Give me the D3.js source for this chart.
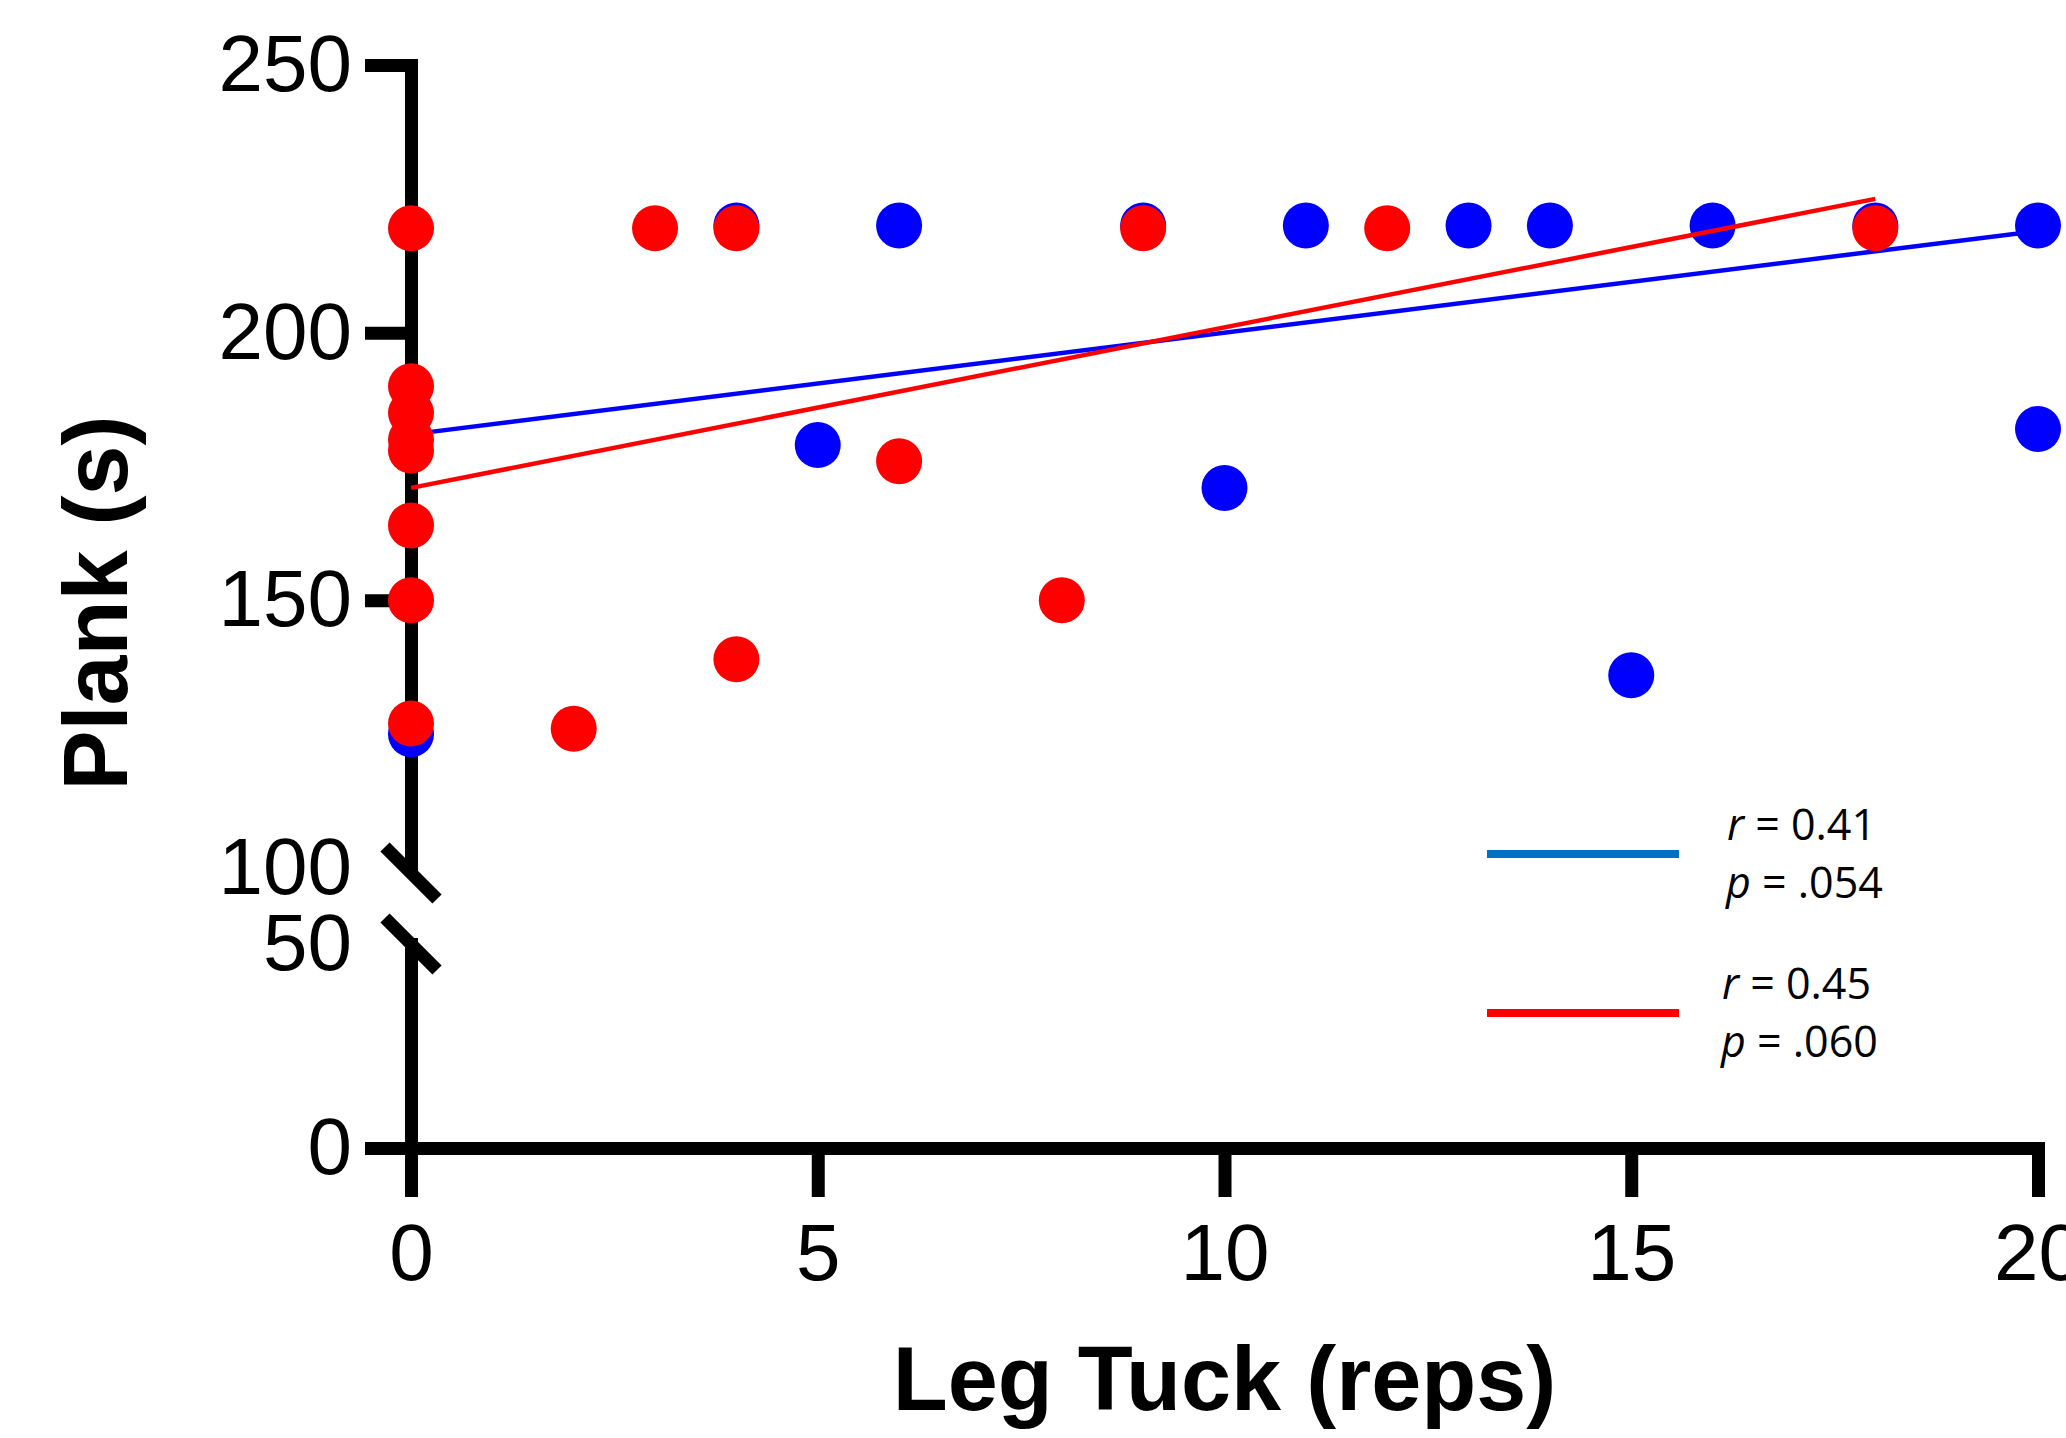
<!DOCTYPE html>
<html>
<head>
<meta charset="utf-8">
<script src="https://cdn.jsdelivr.net/npm/d3@7"></script>
<style>
  body { margin: 0; background: #fff; }
  #root { width: 2066px; height: 1438px; overflow: hidden; }
</style>
</head>
<body>
<div id="root"></div>
<script>
// DATA
const blueX = [0, 4, 5, 6, 9, 10, 11, 13, 14, 15, 16, 18, 20, 20];
const blueY = [125, 220, 179, 220, 220, 171, 220, 220, 220, 136, 220, 220, 220, 182];
const redX = [0, 0, 0, 0, 0, 0, 0, 0, 2, 3, 4, 4, 6, 8, 9, 12, 18];
const redY = [219.5, 190, 185, 180, 178, 164, 150, 127, 126, 219.5, 219.5, 139, 176, 150, 219.5, 219.5, 219.5];

// fitted lines, [x, y] at each end
const blueFit = [[0, 181], [20, 219]];
const redFit = [[0, 171], [18, 225]];

const xTicks = [0, 5, 10, 15, 20];
const yTicksUpper = [100, 150, 200, 250];
const yTicksLower = [0, 50];

const statR = ['0.41', '0.45'];
const statP = ['.054', '.060'];
const legendColors = ['#0070C0', '#FF0000'];

buildGraph();

function buildGraph() {
    const w = 2066;
    const h = 1438;

    const svg = d3.select('#root')
        .append('svg')
        .attr('width', w)
        .attr('height', h);

    // -- scales (y axis is broken between 50 and 100)
    const x = d3.scaleLinear().domain([0, 20]).range([411, 2038]);
    const yUp = d3.scaleLinear().domain([100, 250]).range([868, 65]);
    const yLow = d3.scaleLinear().domain([0, 50]).range([1148, 944]);

    const axisFont = "'Liberation Sans', Arial, sans-serif";

    // Y axis, upper part
    const gUp = svg.append('g')
        .attr('transform', `translate(${x(0)},0)`)
        .call(d3.axisLeft(yUp).tickValues(yTicksUpper).tickSize(46).tickSizeOuter(0).tickPadding(13));

    // Y axis, lower part
    const gLow = svg.append('g')
        .attr('transform', `translate(${x(0)},0)`)
        .call(d3.axisLeft(yLow).tickValues(yTicksLower).tickSize(46).tickSizeOuter(0).tickPadding(13));

    // X axis
    const gX = svg.append('g')
        .attr('transform', `translate(0,${yLow(0)})`)
        .call(d3.axisBottom(x).tickValues(xTicks).tickSize(49).tickSizeOuter(0).tickPadding(26));

    [gUp, gLow, gX].forEach(g => {
        g.select('.domain')
            .attr('stroke', '#000')
            .attr('stroke-width', 13)
            .attr('stroke-linecap', 'square');
        g.selectAll('.tick line')
            .attr('stroke', '#000')
            .attr('stroke-width', 13);
        g.selectAll('.tick text')
            .attr('fill', '#000')
            .style('font-family', axisFont)
            .style('font-size', '80px');
    });

    // no tick at the break values, the break marks go there instead
    gUp.selectAll('.tick').filter(d => d === 100).select('line').remove();
    gLow.selectAll('.tick').filter(d => d === 50).select('line').remove();

    // break marks
    [yUp(100) + 5, yLow(50)].forEach(yy => {
        svg.append('line')
            .attr('x1', x(0) - 26)
            .attr('y1', yy - 26)
            .attr('x2', x(0) + 26)
            .attr('y2', yy + 26)
            .attr('stroke', '#000')
            .attr('stroke-width', 13);
    });

    // points and fit lines
    const r = 23;
    svg.append('g').selectAll('circle')
        .data(blueX)
        .enter()
        .append('circle')
        .attr('cx', d => x(d))
        .attr('cy', (d, i) => yUp(blueY[i]))
        .attr('r', r)
        .attr('fill', '#0000FF');

    const line = d3.line().x(d => x(d[0])).y(d => yUp(d[1]));
    svg.append('path')
        .attr('d', line(blueFit))
        .attr('fill', 'none')
        .attr('stroke', '#0000FF')
        .attr('stroke-width', 4.5);
    svg.append('path')
        .attr('d', line(redFit))
        .attr('fill', 'none')
        .attr('stroke', '#FF0000')
        .attr('stroke-width', 4.5);

    svg.append('g').selectAll('circle')
        .data(redX)
        .enter()
        .append('circle')
        .attr('cx', d => x(d))
        .attr('cy', (d, i) => yUp(redY[i]))
        .attr('r', r)
        .attr('fill', '#FF0000');

    // axis titles
    svg.append('text')
        .attr('text-anchor', 'middle')
        .attr('transform', 'translate(127,603)rotate(-90)')
        .style('font-family', axisFont)
        .style('font-weight', 'bold')
        .style('font-size', '90px')
        .text('Plank (s)');

    svg.append('text')
        .attr('text-anchor', 'middle')
        .attr('x', x(10))
        .attr('y', 1410)
        .style('font-family', axisFont)
        .style('font-weight', 'bold')
        .style('font-size', '90px')
        .text('Leg Tuck (reps)');

    // legend
    const legY = [854, 1013];
    legendColors.forEach((c, i) => {
        svg.append('line')
            .attr('x1', 1487)
            .attr('x2', 1679)
            .attr('y1', legY[i])
            .attr('y2', legY[i])
            .attr('stroke', c)
            .attr('stroke-width', 8);

        const tx = 1727 - i * 5;
        const t1 = svg.append('text')
            .attr('x', tx)
            .attr('y', legY[i] - 14)
            .style('font-family', "'Open Sans', sans-serif")
            .style('font-size', '43px');
        t1.append('tspan').style('font-style', 'italic').text('r');
        t1.append('tspan').text(' = ' + statR[i]);

        const t2 = svg.append('text')
            .attr('x', tx - 1)
            .attr('y', legY[i] + 44)
            .style('font-family', "'Open Sans', sans-serif")
            .style('font-size', '43px');
        t2.append('tspan').style('font-style', 'italic').text('p');
        t2.append('tspan').text(' = ' + statP[i]);
    });
}
</script>
</body>
</html>
